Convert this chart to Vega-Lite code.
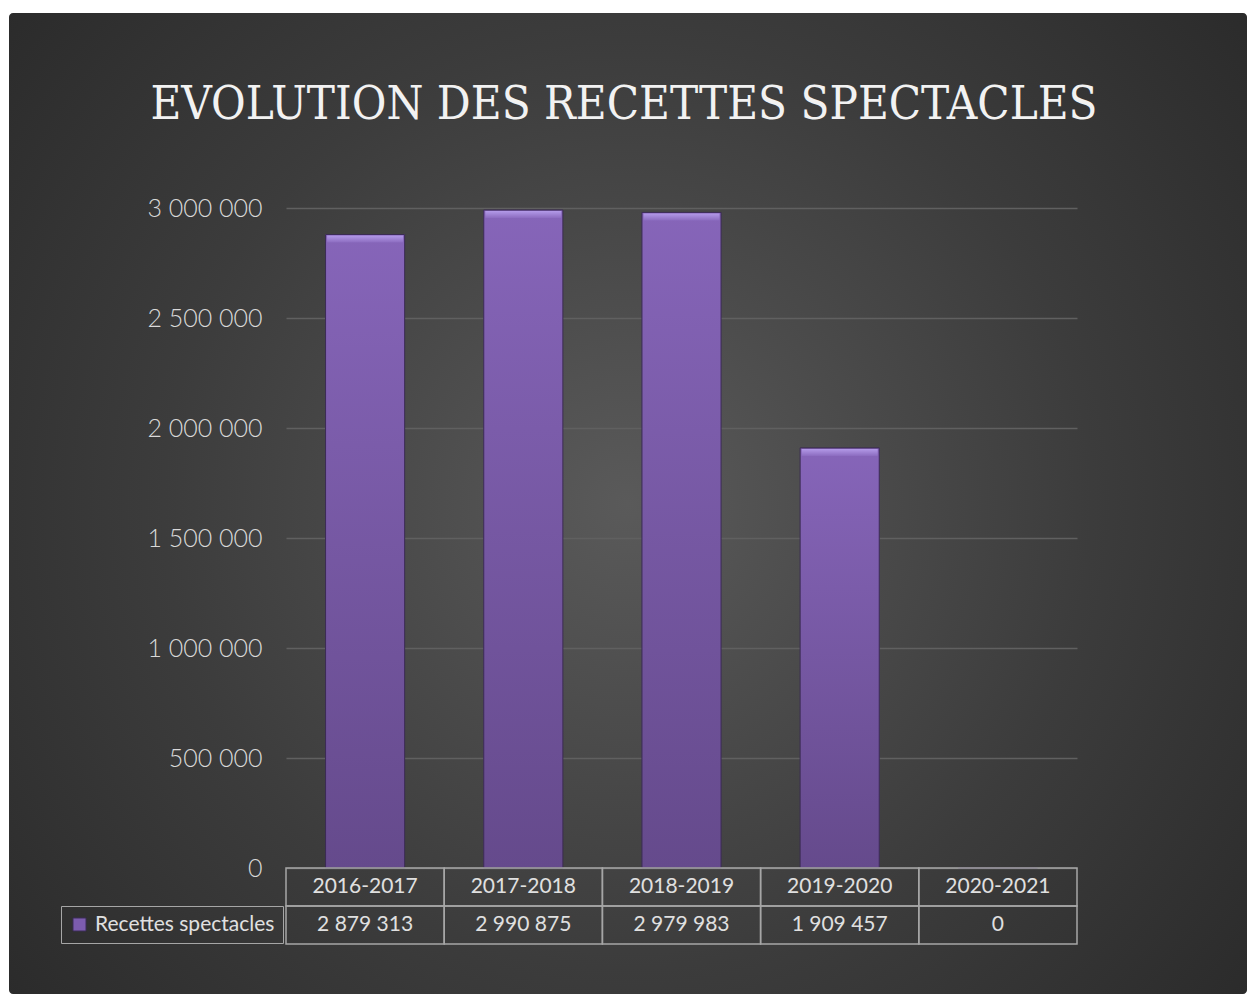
{
  "$schema": "https://vega.github.io/schema/vega-lite/v6.json",
  "width": 1238,
  "height": 981,
  "autosize": {"type": "none"},
  "padding": {"left": 9, "top": 13, "right": 0, "bottom": 0},
  "background": "white",
  "title": {
    "text": "EVOLUTION DES RECETTES SPECTACLES",
    "font": "DejaVu Serif Condensed",
    "fontSize": 47,
    "fontWeight": "normal",
    "color": "#f2f2f2",
    "anchor": "middle",
    "frame": "group",
    "offset": -153,
    "dx": -4,
    "baseline": "alphabetic"
  },
  "data": {
    "values": [
      {"season": "2016-2017", "value": 2879313, "series": "Recettes spectacles"},
      {"season": "2017-2018", "value": 2990875, "series": "Recettes spectacles"},
      {"season": "2018-2019", "value": 2979983, "series": "Recettes spectacles"},
      {"season": "2019-2020", "value": 1909457, "series": "Recettes spectacles"},
      {"season": "2020-2021", "value": 0, "series": "Recettes spectacles"}
    ]
  },
  "encoding": {
    "x": {
      "field": "season",
      "type": "nominal",
      "sort": null,
      "scale": {"range": [277, 1068], "paddingInner": 0, "paddingOuter": 0},
      "axis": null
    }
  },
  "layer": [
    {
      "encoding": {
        "y": {
          "field": "value",
          "type": "quantitative",
          "scale": {"domain": [0, 3000000], "range": [855, 195], "nice": false, "zero": true},
          "axis": {
            "orient": "left",
            "offset": -277,
            "labelPadding": 24,
            "ticks": false,
            "domain": false,
            "grid": true,
            "gridColor": "#606060",
            "gridWidth": 1.5,
            "values": [0, 500000, 1000000, 1500000, 2000000, 2500000, 3000000],
            "format": ",d",
            "labelFont": "Lato",
            "labelFontSize": 25,
            "labelFontWeight": 300,
            "labelColor": "#d9d9d9",
            "title": null
          }
        }
      },
      "layer": [
        {
          "mark": {"type": "bar", "width": {"band": 0.5}},
          "encoding": {
            "color": {
              "field": "series",
              "type": "nominal",
              "scale": {"range": ["#7c5cae"]},
              "legend": {
                "title": null,
                "orient": "none",
                "legendX": 52,
                "legendY": 893,
                "symbolType": "square",
                "symbolSize": 170,
                "symbolStrokeColor": "#3b2d55",
                "symbolStrokeWidth": 1,
                "labelFont": "Lato",
                "labelFontSize": 21,
                "labelLimit": 400,
                "labelColor": "#e0e0e0",
                "padding": 8,
                "strokeColor": "#a6a6a6",
                "labelOffset": 5
              }
            }
          }
        },
        {
          "mark": {
            "type": "bar",
            "width": {"band": 0.5},
            "fill": {
              "gradient": "linear",
              "x1": 0, "y1": 0, "x2": 0, "y2": 1,
              "stops": [
                {"offset": 0, "color": "#8665b9"},
                {"offset": 1, "color": "#654a8c"}
              ]
            },
            "stroke": "#3a2b52",
            "strokeWidth": 1
          }
        },
        {
          "transform": [{"filter": "datum.value > 0"}],
          "mark": {
            "type": "tick",
            "orient": "horizontal",
            "thickness": 7,
            "size": 76,
            "yOffset": 4.5,
            "opacity": 1,
            "fill": {
              "gradient": "linear",
              "x1": 0, "y1": 0, "x2": 0, "y2": 1,
              "stops": [
                {"offset": 0, "color": "#b39ae8"},
                {"offset": 1, "color": "#8c6cc0"}
              ]
            }
          }
        }
      ]
    },
    {
      "layer": [
        {
          "mark": {"type": "rect", "fill": "transparent", "stroke": "#a6a6a6", "strokeWidth": 1.5},
          "encoding": {
            "y": {"datum": "Header", "type": "nominal", "scale": {"domain": ["Header", "Values"], "range": [855, 931], "paddingInner": 0, "paddingOuter": 0}, "axis": null}
          }
        },
        {
          "mark": {"type": "rect", "fill": "transparent", "stroke": "#a6a6a6", "strokeWidth": 1.5},
          "encoding": {
            "y": {"datum": "Values", "type": "nominal"}
          }
        },
        {
          "mark": {"type": "text", "font": "Lato", "fontSize": 21, "color": "#e0e0e0"},
          "encoding": {
            "y": {"datum": "Header", "type": "nominal"},
            "text": {"field": "season"}
          }
        },
        {
          "mark": {"type": "text", "font": "Lato", "fontSize": 21, "color": "#e0e0e0"},
          "encoding": {
            "y": {"datum": "Values", "type": "nominal"},
            "text": {"field": "value", "type": "quantitative", "format": ",d"}
          }
        }
      ]
    }
  ],
  "resolve": {"scale": {"y": "independent"}},
  "config": {
    "view": {
      "stroke": null,
      "cornerRadius": 4,
      "fill": {
        "gradient": "radial",
        "x1": 0.5, "y1": 0.5, "r1": 0,
        "x2": 0.5, "y2": 0.5, "r2": 0.75,
        "stops": [
          {"offset": 0, "color": "#5a5a5a"},
          {"offset": 0.5, "color": "#3c3c3c"},
          {"offset": 1, "color": "#242424"}
        ]
      }
    },
    "locale": {
      "number": {"decimal": ",", "thousands": " ", "grouping": [3], "currency": ["", " €"]}
    }
  }
}
